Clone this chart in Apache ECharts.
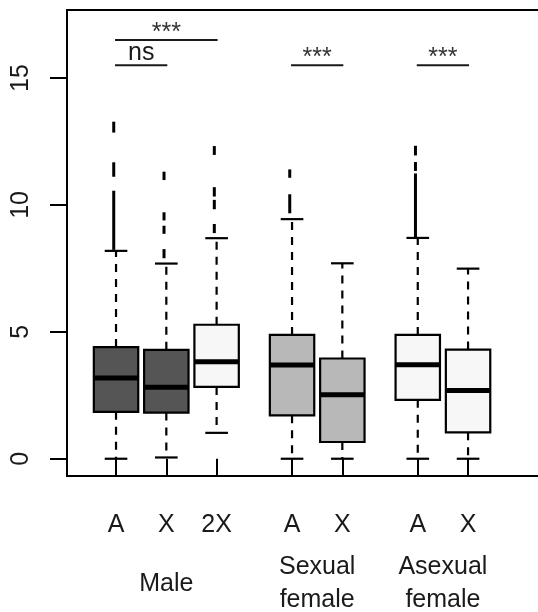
<!DOCTYPE html>
<html><head><meta charset="utf-8">
<script src="https://cdn.jsdelivr.net/npm/echarts@6/dist/echarts.min.js"></script>
<style>html,body{margin:0;padding:0;background:#fff}#c{width:538px;height:612px}</style>
</head><body><div id="c"></div>
<script>
// ---- data ----
const positions = [1, 2, 3, 4.5, 5.5, 7, 8];
const tickLabels = ['A', 'X', '2X', 'A', 'X', 'A', 'X'];
const groupPositions = [2, 5, 7.5];
const groupLabels = ['Male', 'Sexual\nfemale', 'Asexual\nfemale'];
const lowerWhisker = [0, 0.05, 1.02, 0, 0, 0, 0];
const q1 = [1.85, 1.82, 2.83, 1.71, 0.66, 2.32, 1.04];
const median = [3.18, 2.82, 3.82, 3.69, 2.52, 3.70, 2.69];
const q3 = [4.40, 4.29, 5.28, 4.88, 3.95, 4.88, 4.30];
const upperWhisker = [8.19, 7.69, 8.69, 9.44, 7.70, 8.70, 7.49];
const boxFills = ['#555555', '#555555', '#f7f7f7', '#b8b8b8', '#b8b8b8', '#f7f7f7', '#f7f7f7'];
// outlier runs: [box index, low, high]
const outlierRuns = [
  [0, 8.23, 10.56], [0, 11.11, 11.68], [0, 12.85, 13.28],
  [1, 7.90, 8.26], [1, 8.86, 9.18], [1, 9.39, 9.71], [1, 10.98, 11.31],
  [2, 8.89, 9.25], [2, 9.83, 10.20], [2, 10.33, 10.70], [2, 11.97, 12.32],
  [3, 9.67, 10.42], [3, 11.07, 11.40],
  [5, 8.72, 11.24], [5, 11.34, 11.69], [5, 11.95, 12.33]
];
const yTicks = [0, 5, 10, 15];
const brackets = [[1, 2, 15.5], [1, 3, 16.5], [4.5, 5.5, 15.5], [7, 8, 15.5]];
const bracketLabels = ['ns', '***', '***', '***'];
const bracketLabelPos = [[1.5, 16.0], [2, 16.78], [5, 15.78], [7.5, 15.78]];

// ---- chart ----
const FONT = 'Liberation Sans, Arial, sans-serif';
const INK = '#1a1a1a';
const chart = echarts.init(document.getElementById('c'), null, { renderer: 'canvas' });

const boxData = positions.map((p, i) => [p, lowerWhisker[i], q1[i], median[i], q3[i], upperWhisker[i], i]);
const outlierData = outlierRuns.map(r => [positions[r[0]], r[1], r[2]]);
const bracketData = brackets.map(b => [b[0], b[1], b[2]]);
const textData = bracketLabelPos.map((p, i) => [p[0], p[1], i]);

function renderBox(params, api) {
  const x = api.value(0);
  const lo = api.value(1), a = api.value(2), m = api.value(3), b = api.value(4), hi = api.value(5);
  const idx = api.value(6);
  const half = 0.4415, stapleHalf = 0.225;
  const pL = api.coord([x - half, b]), pR = api.coord([x + half, a]);
  const c = api.coord([x, 0])[0];
  const yLo = api.coord([x, lo])[1], yA = api.coord([x, a])[1], yM = api.coord([x, m])[1],
        yB = api.coord([x, b])[1], yHi = api.coord([x, hi])[1];
  const sL = api.coord([x - stapleHalf, 0])[0], sR = api.coord([x + stapleHalf, 0])[0];
  const dash = { stroke: '#000', lineWidth: 2.2, lineDash: [8, 7] };
  const solid = { stroke: '#000', lineWidth: 2.2 };
  return {
    type: 'group',
    children: [
      { type: 'line', shape: { x1: c, y1: yB, x2: c, y2: yHi }, style: dash },
      { type: 'line', shape: { x1: c, y1: yA, x2: c, y2: yLo }, style: dash },
      { type: 'line', shape: { x1: sL, y1: yHi, x2: sR, y2: yHi }, style: solid },
      { type: 'line', shape: { x1: sL, y1: yLo, x2: sR, y2: yLo }, style: solid },
      { type: 'rect', shape: { x: pL[0], y: pL[1], width: pR[0] - pL[0], height: pR[1] - pL[1] },
        style: { fill: boxFills[idx], stroke: '#000', lineWidth: 2.2 } },
      { type: 'line', shape: { x1: pL[0], y1: yM, x2: pR[0], y2: yM }, style: { stroke: '#000', lineWidth: 5 } }
    ]
  };
}

function renderOutlier(params, api) {
  const x = api.coord([api.value(0), api.value(1)]);
  const top = api.coord([api.value(0), api.value(2)]);
  return {
    type: 'rect',
    shape: { x: x[0] - 2.3 - 1.5, y: top[1], width: 3, height: x[1] - top[1] },
    style: { fill: '#000' }
  };
}

function renderBracket(params, api) {
  const p1 = api.coord([api.value(0), api.value(2)]);
  const p2 = api.coord([api.value(1), api.value(2)]);
  return { type: 'line', shape: { x1: p1[0] - 1, y1: p1[1], x2: p2[0] + 1, y2: p2[1] },
           style: { stroke: INK, lineWidth: 2 } };
}

function renderText(params, api) {
  const p = api.coord([api.value(0), api.value(1)]);
  const i = api.value(2);
  const t = bracketLabels[i];
  return { type: 'text', x: p[0], y: p[1],
           style: { text: t, fill: t === 'ns' ? INK : '#333', fontSize: 25, fontFamily: FONT,
                    align: 'center', verticalAlign: 'middle' } };
}

chart.setOption({
  animation: false,
  backgroundColor: '#fff',
  grid: { left: 67, top: 10, right: -7, bottom: 136, show: true, borderColor: '#000', borderWidth: 2,
          backgroundColor: 'transparent', containLabel: false, outerBoundsMode: 'none' },
  xAxis: [
    { type: 'value', min: 0.025, max: 9.53, position: 'bottom',
      axisLine: { show: false }, splitLine: { show: false },
      axisTick: { show: true, customValues: positions, length: 17, lineStyle: { color: '#000', width: 2 } },
      axisLabel: { show: true, customValues: positions, margin: 49, verticalAlign: 'middle',
                   formatter: v => tickLabels[positions.indexOf(v)],
                   fontSize: 25, fontFamily: FONT, color: INK } },
    { type: 'value', min: 0.025, max: 9.53, position: 'bottom', offset: 0,
      axisLine: { show: false }, splitLine: { show: false }, axisTick: { show: false },
      axisLabel: { show: true, customValues: groupPositions, margin: 108, verticalAlign: 'middle',
                   lineHeight: 33, formatter: v => groupLabels[groupPositions.indexOf(v)],
                   fontSize: 25, fontFamily: FONT, color: INK } }
  ],
  yAxis: {
    type: 'value', min: -0.68, max: 17.68,
    axisLine: { show: false }, splitLine: { show: false },
    axisTick: { show: true, customValues: yTicks, length: 17, lineStyle: { color: '#000', width: 2 } },
    axisLabel: { show: true, customValues: yTicks, rotate: 90, margin: 33,
                 fontSize: 25, fontFamily: FONT, color: INK }
  },
  series: [
    { type: 'custom', xAxisIndex: 0, yAxisIndex: 0, renderItem: renderOutlier, data: outlierData, silent: true },
    { type: 'custom', xAxisIndex: 0, yAxisIndex: 0, renderItem: renderBox, data: boxData, silent: true },
    { type: 'custom', xAxisIndex: 0, yAxisIndex: 0, renderItem: renderBracket, data: bracketData, silent: true },
    { type: 'custom', xAxisIndex: 0, yAxisIndex: 0, renderItem: renderText, data: textData, silent: true }
  ]
});
</script></body></html>
